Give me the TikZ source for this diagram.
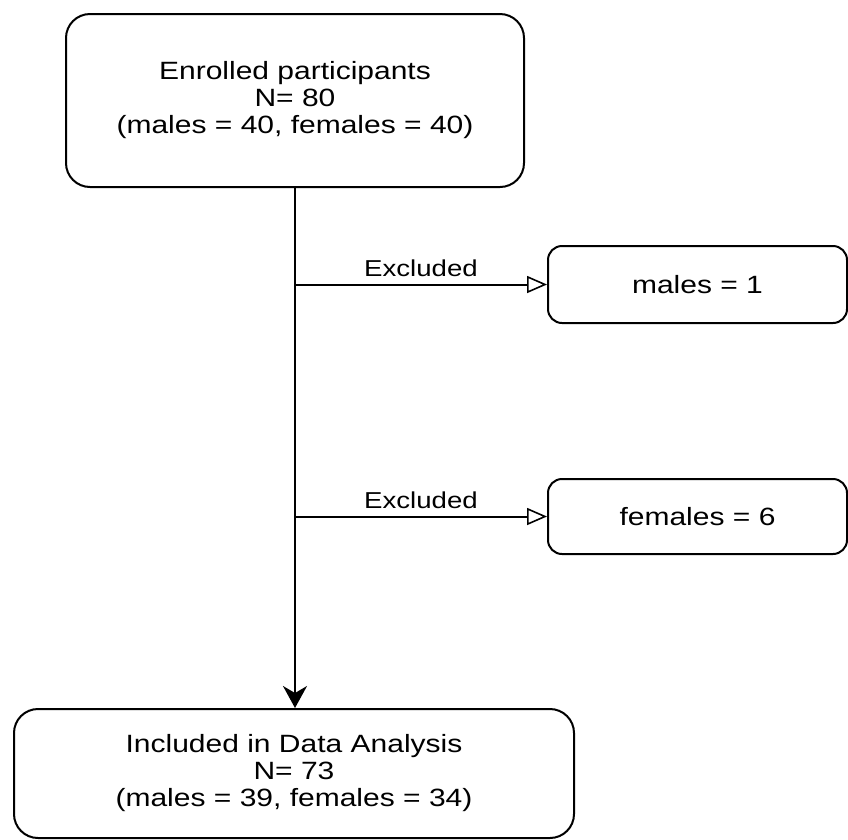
\documentclass[tikz,border=0pt]{standalone}
\usepackage{fontspec}
\setmainfont{Liberation Sans}[FakeStretch=1.2]
\usetikzlibrary{arrows.meta}

\begin{document}
\begin{tikzpicture}[x=1pt, y=1pt, line width=2pt,
    bigbox/.style={draw, rounded corners=24pt, align=center, inner sep=0pt,
        font=\fontsize{25}{27}\selectfont},
    smallbox/.style={draw, rounded corners=14pt, align=center, inner sep=0pt,
        minimum width=299pt, font=\fontsize{25}{27}\selectfont},
    exclarrow/.style={-{Triangle[open, length=20pt, width=17pt, line width=1.6pt]}},
    mainarrow/.style={-{Stealth[length=22pt, width=24pt, inset=7pt]}},
    lbl/.style={font=\fontsize{23}{25}\selectfont, inner sep=7pt}]

    \useasboundingbox (0,0) rectangle (848,-839);

    \node[bigbox, minimum width=458pt, minimum height=173pt] (enrolled) at (295,-100.5)
        {Enrolled participants\\N= 80\\(males = 40, females = 40)};
    \node[smallbox, minimum height=77pt] (exclmales) at (697.5,-284.5) {males = 1};
    \node[smallbox, minimum height=75pt] (exclfemales) at (697.5,-516.5) {females = 6};
    \node[bigbox, minimum width=560pt, minimum height=129pt] (included) at (294,-773.5)
        {Included in Data Analysis\\N= 73\\(males = 39, females = 34)};

    \coordinate (split1) at (enrolled.south |- exclmales.west);
    \coordinate (split2) at (enrolled.south |- exclfemales.west);

    \draw[mainarrow] (enrolled.south) -- (enrolled.south |- included.north);
    \draw[exclarrow] (split1) -- node[lbl, above] {Excluded} (exclmales.west);
    \draw[exclarrow] (split2) -- node[lbl, above] {Excluded} (exclfemales.west);
\end{tikzpicture}
\end{document}
